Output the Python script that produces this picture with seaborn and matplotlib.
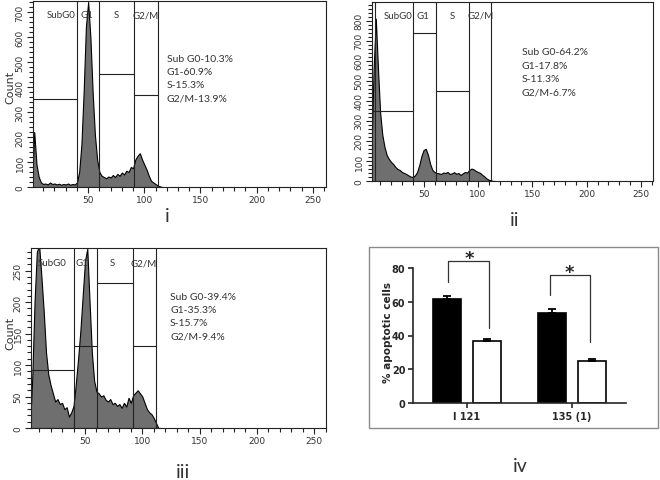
import numpy as np
import pandas as pd
import matplotlib
matplotlib.use("Agg")
import matplotlib.pyplot as plt
import seaborn as sns
from matplotlib.patches import Rectangle
from matplotlib.ticker import MultipleLocator

# ---------------- data ----------------
channels = list(range(0, 118, 2))

counts_i = [0, 220, 90, 40, 18, 12, 14, 10, 18, 12, 14, 10, 13, 9, 12, 10, 14, 9, 12, 10,
            18, 60, 170, 380, 640, 740, 600, 380, 210, 110, 60, 45, 40, 35, 42, 38, 48, 40,
            52, 45, 58, 50, 65, 60, 80, 75, 110, 125, 135, 110, 90, 70, 45, 25, 18, 12, 6, 2, 0]

counts_ii = [0, 150, 560, 810, 560, 340, 230, 170, 130, 110, 95, 85, 70, 60, 55, 45, 40, 35,
             28, 22, 20, 28, 45, 80, 125, 155, 160, 130, 85, 55, 45, 40, 38, 35, 42, 40, 45,
             35, 38, 44, 36, 40, 30, 38, 45, 42, 55, 62, 58, 50, 45, 40, 30, 22, 12, 6, 3, 0, 0]

counts_iii = [0, 0, 80, 200, 280, 290, 240, 185, 120, 85, 68, 55, 42, 46, 38, 40, 30, 33, 18,
              25, 35, 70, 110, 155, 210, 265, 285, 200, 120, 75, 58, 55, 50, 52, 45, 42, 46,
              38, 40, 35, 38, 32, 40, 34, 48, 40, 52, 56, 60, 55, 50, 40, 30, 25, 22, 16, 8, 0, 0]

gate_names = ["SubG0", "G1", "S", "G2/M"]
gate_bounds_i = [40, 60, 91, 112]
gate_bounds_ii = [40, 61, 92, 112]
gate_bounds_iii = [40, 60.5, 91.5, 112]
gate_levels_i = [352, None, 453, 369]
gate_levels_ii = [348, 740, 450, None]
gate_levels_iii = [92.5, 131, 230, 131]

stats_i = ["Sub G0-10.3%", "G1-60.9%", "S-15.3%", "G2/M-13.9%"]
stats_ii = ["Sub G0-64.2%", "G1-17.8%", "S-11.3%", "G2/M-6.7%"]
stats_iii = ["Sub G0-39.4%", "G1-35.3%", "S-15.7%", "G2/M-9.4%"]

cell_lines = ["I 121", "135 (1)"]
treatments = ["A", "B"]
apoptotic_a = [61.5, 53.5]
apoptotic_b = [36.5, 24.7]
err_a = [1.8, 2.0]
err_b = [1.5, 1.3]

# ---------------- style ----------------
sns.set_style("ticks")
plt.rcParams["font.family"] = ["DejaVu Sans"]

W, H = 660, 481
fig = plt.figure(figsize=(6.6, 4.81), dpi=100)


def frac(l, t, r, b):
    return [l / W, (H - b) / H, (r - l) / W, (b - t) / H]


FILL = "#6f6f6f"
TXT = "#333333"


def histo(rect, counts, xlim, ylim, ymaj, ymin, bounds, levels, label_x, label_yf,
          stats, stats_x, stats_yf, stats_dy, count_label=None):
    ax = fig.add_axes(rect)
    hd = pd.DataFrame({"channel": channels, "count": counts})
    sns.histplot(data=hd, x="channel", weights="count", binwidth=2, binrange=(-1, 117),
                 element="poly", fill=True, color=FILL, edgecolor="black", linewidth=0.8,
                 alpha=1, ax=ax)
    ax.set_xlim(*xlim)
    ax.set_ylim(*ylim)
    ax.set_xlabel("")
    ax.set_ylabel("")
    for s in ax.spines.values():
        s.set_linewidth(0.8)
        s.set_color("#222222")
    ax.xaxis.set_major_locator(MultipleLocator(50))
    ax.xaxis.set_minor_locator(MultipleLocator(10))
    ax.yaxis.set_major_locator(MultipleLocator(ymaj))
    ax.yaxis.set_minor_locator(MultipleLocator(ymin))
    ax.set_xticks([50, 100, 150, 200, 250])
    ax.tick_params(axis="both", which="major", length=4, width=0.8, labelsize=6.5,
                   colors="#222222", labelcolor=TXT, pad=2)
    ax.tick_params(axis="both", which="minor", length=3, width=0.8, colors="#222222")
    for lab in ax.get_yticklabels():
        lab.set_rotation(90)
        lab.set_va("center")
    # gates
    edges = [xlim[0]] + bounds
    for k in range(4):
        x0, x1 = edges[k], edges[k + 1]
        ax.axvline(x1, color="#222222", lw=0.8)
        if levels[k] is not None:
            ax.plot([x0, x1], [levels[k], levels[k]], color="#222222", lw=0.8)
        ax.text(label_x[k], label_yf, gate_names[k], transform=ax.get_xaxis_transform(),
                ha="center", va="center", fontsize=7, family="Lato", color=TXT)
    for j, s in enumerate(stats):
        ax.text(stats_x, stats_yf - j * stats_dy, s, transform=ax.get_xaxis_transform(),
                ha="left", va="center", fontsize=7.5, family="Lato", color=TXT)
    if count_label:
        ax.set_ylabel("Count", fontsize=8, color=TXT)
        ax.yaxis.set_label_coords(*count_label)
    return ax


ax1 = histo(frac(33, 2, 326, 188), counts_i, (0.9, 261.8), (0, 744), 100, 20,
            gate_bounds_i, gate_levels_i, [25.8, 49, 74.8, 101.5], 0.925,
            stats_i, 120.2, (188 - 60) / 186, 13 / 186, count_label=(-0.061, 0.54))

ax2 = histo(frac(372, 3, 653, 182), counts_ii, (2.5, 261), (0, 893), 100, 20,
            gate_bounds_ii, gate_levels_ii, [26.4, 49.6, 76, 102], 0.927,
            stats_ii, 140.3, (182 - 52.7) / 179, 13.5 / 179)
ax2.axvline(4.9, color="#222222", lw=0.8)

ax3 = histo(frac(31, 249, 326, 429), counts_iii, (2.9, 260.3), (0, 286), 50, 10,
            gate_bounds_iii, gate_levels_iii, [21, 47, 73.6, 101.5], 0.917,
            stats_iii, 124.2, (429 - 297.3) / 180, 13.3 / 180, count_label=(-0.054, 0.533))

# ---------------- bar panel ----------------
df = pd.DataFrame({
    "line": cell_lines * 2,
    "treat": [treatments[0]] * 2 + [treatments[1]] * 2,
    "value": apoptotic_a + apoptotic_b,
})
ax4 = fig.add_axes(frac(413, 269, 626, 404))
sns.barplot(data=df, x="line", y="value", hue="treat", order=cell_lines,
            hue_order=treatments, palette=["black", "white"], edgecolor="black",
            linewidth=1.2, width=0.76, gap=0.3, errorbar=None, legend=False, ax=ax4)
for cont, errs in zip(ax4.containers, [err_a, err_b]):
    xs = [p.get_x() + p.get_width() / 2 for p in cont]
    hs = [p.get_height() for p in cont]
    ax4.errorbar(xs, hs, yerr=[[0] * len(errs), errs], fmt="none", ecolor="black",
                 elinewidth=1.3, capsize=2.6, capthick=1.3)
ax4.set_xlim(-0.514, 1.514)
ax4.set_ylim(0, 80)
ax4.set_yticks([0, 20, 40, 60, 80])
sns.despine(ax=ax4)
for s in ["left", "bottom"]:
    ax4.spines[s].set_linewidth(1.2)
ax4.tick_params(axis="both", length=3.5, width=1.2, labelsize=7, pad=2)
for lab in ax4.get_xticklabels() + ax4.get_yticklabels():
    lab.set_fontweight("bold")
ax4.set_xlabel("")
ax4.set_ylabel("% apoptotic cells", fontsize=7.5, fontweight="bold")
ax4.yaxis.set_label_coords(-0.094, 0.53)

# significance brackets
brackets = [(-0.18, 0.21, 72, 84, 44.3, 0.02, 86.0), (0.79, 1.17, 64, 75.9, 36.3, 0.97, 77.6)]
for xl, xr, yl, yt, yr, sx, sy in brackets:
    ax4.plot([xl, xl, xr, xr], [yl, yt, yt, yr], color="#333333", lw=0.9, clip_on=False)
    ax4.text(sx, sy, "*", ha="center", va="center", fontsize=13, fontweight="bold",
             clip_on=False)

fig.patches.append(Rectangle((369 / W, (H - 429) / H), (658 - 369) / W, (429 - 248) / H,
                             transform=fig.transFigure, fill=False, edgecolor="#8a8a8a",
                             lw=1))

# panel labels
for txt, x, y in [("i", 167, 216), ("ii", 515, 220), ("iii", 183, 473), ("iv", 520, 467)]:
    fig.text(x / W, 1 - y / H, txt, ha="center", va="center", fontsize=14,
             family="Lato", color=TXT)

fig.savefig("out.png", dpi=100)
